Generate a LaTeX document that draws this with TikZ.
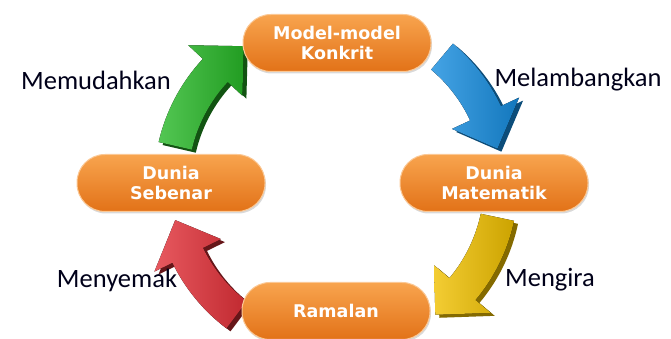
\documentclass[tikz,border=0pt]{standalone}
\usepackage{fontspec}
\setmainfont{Carlito}
\newfontfamily\kotakfont{DejaVu Sans}
\usetikzlibrary{shadows}

\definecolor{orenmuda}{RGB}{248,164,78}
\definecolor{orentua}{RGB}{226,114,24}
\definecolor{hijau}{RGB}{40,184,40}
\definecolor{biru}{RGB}{22,140,222}
\definecolor{kuning}{RGB}{240,192,0}
\definecolor{merah}{RGB}{226,48,56}

% #1 sudut ekor, #2 sudut hujung, #3 warna, #4 warna sisi
\newcommand{\blokpanah}[4]{%
  \pgfmathsetmacro{\hd}{#2+13}
  \begin{scope}[shift={(pusat)}]
    \fill[#4,xshift=4pt,yshift=-3pt](#1:182pt)arc[start angle=#1,end angle=\hd,radius=182pt]
      --(\hd:202pt)--(#2:165pt)--(\hd:128pt)--(\hd:148pt)
      arc[start angle=\hd,end angle=#1,radius=148pt]--cycle;
    \fill[left color=#3!80!white,right color=#3!85!black](#1:182pt)arc[start angle=#1,end angle=\hd,radius=182pt]
      --(\hd:202pt)--(#2:165pt)--(\hd:128pt)--(\hd:148pt)
      arc[start angle=\hd,end angle=#1,radius=148pt]--cycle;
  \end{scope}}

\begin{document}
\begin{tikzpicture}[x=1pt,y=1pt,
    kotak/.style={rectangle,rounded corners=28pt,minimum width=188pt,minimum height=57pt,
      top color=orenmuda,bottom color=orentua,draw=orenmuda!60!white,line width=1pt,
      drop shadow={shadow xshift=1pt,shadow yshift=-2pt,opacity=.3},
      text=white,align=center,font=\kotakfont\bfseries\fontsize{17.5}{20}\selectfont},
    label/.style={font=\fontsize{26.5}{30}\selectfont,text=black!90!blue}]
    \useasboundingbox(0,0)rectangle(671,339);
    \coordinate(pusat)at(336,156);
    % anak panah kitaran
    \blokpanah{167}{124}{hijau}{hijau!45!black}
    \blokpanah{50}{12}{biru}{biru!55!black}
    \blokpanah{-12}{-53}{kuning}{kuning!55!black}
    \blokpanah{233}{193}{merah}{merah!45!black}
    % kotak
    \node[kotak](konkrit)at(337,296){Model-model\\Konkrit};
    \node[kotak](matematik)at(494,156){Dunia\\Matematik};
    \node[kotak](sebenar)at(171,156){Dunia\\Sebenar};
    \node[kotak](ramalan)at(336,28){Ramalan};
    % label
    \node[label](mudah)at(96,259){Memudahkan};
    \node[label](lambang)at(578,259){Melambangkan};
    \node[label](kira)at(550,59){Mengira};
    \node[label](semak)at(117,59){Menyemak};
\end{tikzpicture}
\end{document}
